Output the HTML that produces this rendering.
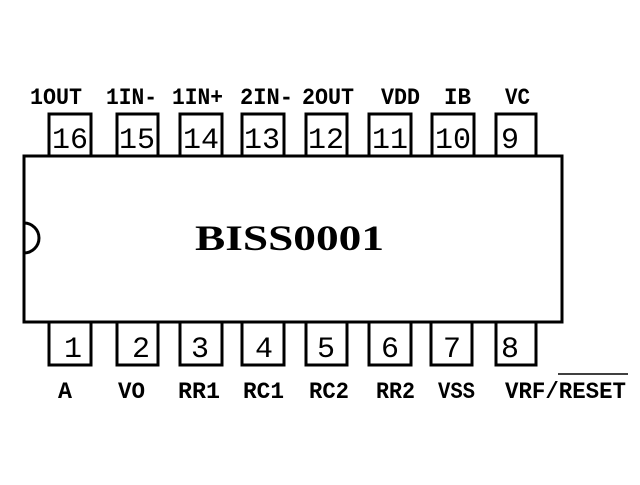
<!DOCTYPE html>
<html><head><style>html,body{margin:0;padding:0;background:#fff}</style></head><body>
<svg width="640" height="480" viewBox="0 0 640 480" xmlns="http://www.w3.org/2000/svg">
<rect width="640" height="480" fill="#fff"/>
<g fill="none" stroke="#000" stroke-width="3">
<rect x="24" y="156" width="538" height="166"/>
<path d="M24,223 A15,15 0 0 1 24,253"/>
<rect x="49" y="114" width="42" height="42"/>
<rect x="117" y="114" width="41" height="42"/>
<rect x="180" y="114" width="42" height="42"/>
<rect x="242" y="114" width="42" height="42"/>
<rect x="306" y="114" width="41" height="42"/>
<rect x="369" y="114" width="42" height="42"/>
<rect x="432" y="114" width="42" height="42"/>
<rect x="496" y="114" width="40" height="42"/>
<rect x="49" y="322" width="42" height="43"/>
<rect x="117" y="322" width="41" height="43"/>
<rect x="180" y="322" width="42" height="43"/>
<rect x="242" y="322" width="42" height="43"/>
<rect x="306" y="322" width="41" height="43"/>
<rect x="369" y="322" width="42" height="43"/>
<rect x="431" y="322" width="41" height="43"/>
<rect x="496" y="322" width="40" height="43"/>
</g>
<g font-family="Liberation Mono, monospace" font-size="30" text-anchor="middle" fill="#000">
<text x="70" y="148">16</text><text x="137" y="148">15</text><text x="201" y="148">14</text><text x="262" y="148">13</text>
<text x="326" y="148">12</text><text x="390" y="148">11</text><text x="453" y="148">10</text><text x="510" y="148">9</text>
<text x="73" y="357">1</text><text x="141" y="357">2</text><text x="200" y="357">3</text><text x="264" y="357">4</text>
<text x="326" y="357">5</text><text x="390" y="357">6</text><text x="452" y="357">7</text><text x="510" y="357">8</text>
</g>
<g font-family="Liberation Mono, monospace" font-weight="bold" font-size="23" fill="#000">
<text x="30" y="104" textLength="52" lengthAdjust="spacingAndGlyphs">1OUT</text>
<text x="106" y="104" textLength="51" lengthAdjust="spacingAndGlyphs">1IN-</text>
<text x="172" y="104" textLength="51" lengthAdjust="spacingAndGlyphs">1IN+</text>
<text x="240" y="104" textLength="53" lengthAdjust="spacingAndGlyphs">2IN-</text>
<text x="302" y="104" textLength="52" lengthAdjust="spacingAndGlyphs">2OUT</text>
<text x="381" y="104" textLength="39" lengthAdjust="spacingAndGlyphs">VDD</text>
<text x="444" y="104" textLength="27" lengthAdjust="spacingAndGlyphs">IB</text>
<text x="505" y="104" textLength="25" lengthAdjust="spacingAndGlyphs">VC</text>
<text x="58" y="398" textLength="14" lengthAdjust="spacingAndGlyphs">A</text>
<text x="118" y="398" textLength="27" lengthAdjust="spacingAndGlyphs">VO</text>
<text x="178" y="398" textLength="42" lengthAdjust="spacingAndGlyphs">RR1</text>
<text x="243" y="398" textLength="41" lengthAdjust="spacingAndGlyphs">RC1</text>
<text x="309" y="398" textLength="40" lengthAdjust="spacingAndGlyphs">RC2</text>
<text x="376" y="398" textLength="39" lengthAdjust="spacingAndGlyphs">RR2</text>
<text x="438" y="398" textLength="37" lengthAdjust="spacingAndGlyphs">VSS</text>
<text x="505" y="398" textLength="121" lengthAdjust="spacingAndGlyphs">VRF/RESET</text>
</g>
<line x1="558" y1="374" x2="628" y2="374" stroke="#000" stroke-width="1.5"/>
<text x="195" y="250" textLength="189" lengthAdjust="spacingAndGlyphs" font-family="Liberation Serif, serif" font-weight="bold" font-size="36" fill="#000">BISS0001</text>
</svg>
</body></html>
